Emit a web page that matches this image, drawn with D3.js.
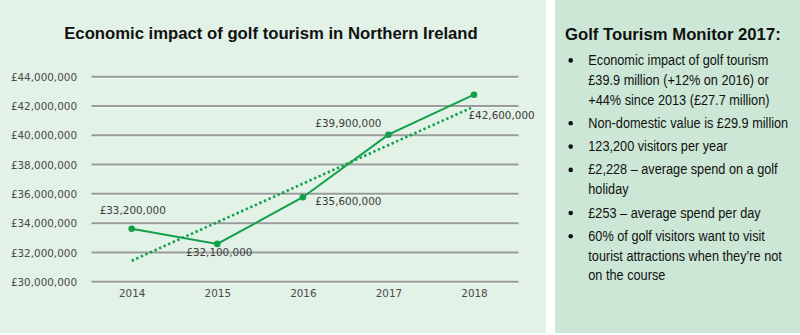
<!DOCTYPE html>
<html><head><meta charset="utf-8">
<script src="https://cdn.jsdelivr.net/npm/d3@7"></script>
<style>
html,body{margin:0;padding:0;background:#fff;}
svg{display:block;}
</style></head>
<body>
<svg id="c" width="800" height="335"></svg>
<script>
// ---- data ----
const chartTitle = "Economic impact of golf tourism in Northern Ireland";
const years = ["2014", "2015", "2016", "2017", "2018"];
const impactValues = [33620000, 32580000, 35770000, 40040000, 42770000];
const impactLabels = ["£33,200,000", "£32,100,000", "£35,600,000", "£39,900,000", "£42,600,000"];
const trendYears = ["2014", "2018"];
const trendValues = [31430000, 41960000];
const yTicks = [30000000, 32000000, 34000000, 36000000, 38000000, 40000000, 42000000, 44000000];
const panelTitle = "Golf Tourism Monitor 2017:";
const panelBullets = [
  ["Economic impact of golf tourism", "£39.9 million (+12% on 2016) or", "+44% since 2013 (£27.7 million)"],
  ["Non-domestic value is £29.9 million"],
  ["123,200 visitors per year"],
  ["£2,228 – average spend on a golf", "holiday"],
  ["£253 – average spend per day"],
  ["60% of golf visitors want to visit", "tourist attractions when they’re not", "on the course"]
];

// ---- drawing ----
const svg = d3.select("#c");
const green = "#12a04b";
const axisFont = "'DejaVu Sans', sans-serif";

svg.append("rect").attr("x",0).attr("y",0).attr("width",546).attr("height",333).attr("fill","#e2f2e7");
svg.append("rect").attr("x",555).attr("y",0).attr("width",245).attr("height",333).attr("fill","#cce7d6");

svg.append("text").attr("x",271).attr("y",39).attr("text-anchor","middle")
  .attr("font-family","'Liberation Sans', Arial, sans-serif").attr("font-weight","bold")
  .attr("font-size","16.7px").attr("fill","#111").text(chartTitle);

const x = d3.scalePoint().domain(years).range([131.7, 474]);
const y = d3.scaleLinear().domain([30000000, 44000000]).range([281.7, 76.7]);
const gridL = 91.5, gridR = 518.5;

const fmt = v => "£" + d3.format(",")(v);

// gridlines
const g = svg.append("g");
yTicks.forEach(t => {
  g.append("line").attr("x1",gridL).attr("x2",gridR).attr("y1",y(t)+1.6).attr("y2",y(t)+1.6)
    .attr("stroke","#f4faf6").attr("stroke-width",1);
  g.append("line").attr("x1",gridL).attr("x2",gridR).attr("y1",y(t)).attr("y2",y(t))
    .attr("stroke","#9a9c9b").attr("stroke-width",2);
});

// y axis labels
const yAxis = d3.axisLeft(y).tickValues(yTicks).tickFormat(fmt).tickSize(0).tickPadding(0);
const ya = svg.append("g").attr("transform","translate(77,0)").call(yAxis);
ya.select(".domain").remove();
ya.selectAll("text").attr("font-family",axisFont).attr("font-size","10.4px").attr("fill","#4a4a4a").attr("dy","0.35em");

// x axis labels
const xAxis = d3.axisBottom(x).tickSize(0).tickPadding(0);
const xa = svg.append("g").attr("transform","translate(0,290)").call(xAxis);
xa.select(".domain").remove();
xa.selectAll("text").attr("font-family",axisFont).attr("font-size","10.4px").attr("fill","#4a4a4a");

// trend line
const tx0 = x(trendYears[0]), tx1 = x(trendYears[1]);
const tEnd = tx1 - 3;
svg.append("line")
  .attr("x1",tx0).attr("y1",y(trendValues[0]))
  .attr("x2",tEnd).attr("y2",y(trendValues[0] + (trendValues[1]-trendValues[0])*((tEnd-tx0)/(tx1-tx0))))
  .attr("stroke",green).attr("stroke-width",2.6).attr("stroke-dasharray","2.4 2.6");

// main line
const pts = years.map((yr,i)=>({yr, v: impactValues[i], lab: impactLabels[i]}));
svg.append("path").datum(pts)
  .attr("d", d3.line().x(d=>x(d.yr)).y(d=>y(d.v)))
  .attr("fill","none").attr("stroke",green).attr("stroke-width",2);
svg.selectAll("circle.pt").data(pts).join("circle").attr("class","pt")
  .attr("cx",d=>x(d.yr)).attr("cy",d=>y(d.v)).attr("r",3.3).attr("fill",green);

// data labels: placement per point
const placement = [
  {anchor:"middle", dx:1, dy:-18.5},
  {anchor:"start", dx:-31, dy:8.5},
  {anchor:"start", dx:12.5, dy:4.5},
  {anchor:"end", dx:-7, dy:-11.5},
  {anchor:"start", dx:-5.5, dy:20.5}
];
svg.selectAll("text.lab").data(pts).join("text").attr("class","lab")
  .attr("x",(d,i)=>x(d.yr)+placement[i].dx).attr("y",(d,i)=>y(d.v)+placement[i].dy)
  .attr("dy","0.35em").attr("text-anchor",(d,i)=>placement[i].anchor)
  .attr("font-family",axisFont).attr("font-size","10.4px").attr("fill","#3c3c3c")
  .text(d=>d.lab);

// right panel
svg.append("text").attr("x",565).attr("y",40)
  .attr("font-family","'Liberation Sans', Arial, sans-serif").attr("font-weight","bold")
  .attr("font-size","16.7px").attr("fill","#111").text(panelTitle);

const bodyG = svg.append("g").attr("transform","translate(588.3,0) scale(0.865,1)");
let by = 65;
panelBullets.forEach(lines => {
  svg.append("circle").attr("cx",570.7).attr("cy",by-4.6).attr("r",2.3).attr("fill","#111");
  lines.forEach((ln,j) => {
    bodyG.append("text").attr("x",0).attr("y",by + j*19.8)
      .attr("font-family","'Liberation Sans', Arial, sans-serif").attr("font-size","14.7px").attr("fill","#111").text(ln);
  });
  by += (lines.length-1)*19.8 + 23.3;
});
</script>
</body></html>
